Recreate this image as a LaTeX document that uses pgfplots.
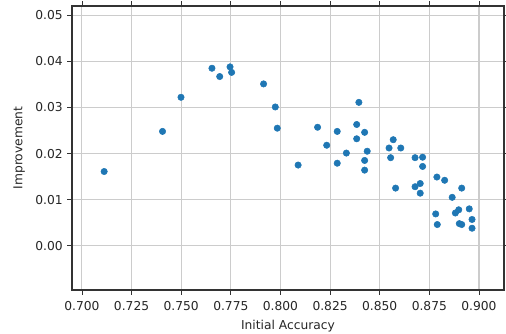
\documentclass[border=0pt]{standalone}
\usepackage{pgfplots}
\pgfplotsset{compat=1.18}
\usepackage{fontspec}
\setmainfont{DejaVu Sans}
\definecolor{mplblue}{HTML}{1F77B4}
\begin{document}
\begin{tikzpicture}
\begin{axis}[
  scale only axis,
  width=324pt, height=213pt,
  xmin=0.695, xmax=0.9126,
  ymin=-0.0096, ymax=0.052,
  xtick={0.700,0.725,0.750,0.775,0.800,0.825,0.850,0.875,0.900},
  ytick={0,0.01,0.02,0.03,0.04,0.05},
  xticklabel style={yshift=-1.5pt,/pgf/number format/.cd,fixed,fixed zerofill,precision=3},
  yticklabel style={/pgf/number format/.cd,fixed,fixed zerofill,precision=2},
  scaled x ticks=false, scaled y ticks=false,
  /pgf/number format/assume math mode=true,
  tick label style={font=\fontsize{9.2}{11}\selectfont, text=black!85},
  label style={font=\fontsize{9.2}{11}\selectfont, text=black!85},
  xlabel={Initial Accuracy},
  ylabel={Improvement},
  xlabel style={yshift=0pt},
  ylabel style={yshift=1pt},
  tick align=outside,
  major tick length=3.5pt,
  tick style={black!80, line width=0.6pt},
  axis line style={black!80, line width=0.8pt},
  grid=major,
  major grid style={gray!40, line width=0.8pt},
  clip=false,
]
\addplot[only marks, mark=*, mark size=2.4pt, mark options={draw=mplblue, fill=mplblue}] coordinates {
(0.7112,0.0161)
(0.7406,0.0248)
(0.7499,0.0322)
(0.7655,0.0385)
(0.7694,0.0367)
(0.7746,0.0388)
(0.7754,0.0376)
(0.7915,0.0351)
(0.7974,0.0301)
(0.7984,0.0255)
(0.8089,0.0175)
(0.8187,0.0257)
(0.8233,0.0218)
(0.8286,0.0248)
(0.8286,0.0179)
(0.8332,0.0201)
(0.8395,0.0311)
(0.8384,0.0263)
(0.8384,0.0232)
(0.8424,0.0246)
(0.8437,0.0205)
(0.8424,0.0185)
(0.8424,0.0164)
(0.8568,0.0230)
(0.8547,0.0212)
(0.8606,0.0212)
(0.8555,0.0191)
(0.8580,0.0125)
(0.8678,0.0191)
(0.8716,0.0192)
(0.8716,0.0172)
(0.8678,0.0128)
(0.8704,0.0135)
(0.8704,0.0114)
(0.8788,0.0149)
(0.8827,0.0142)
(0.8913,0.0125)
(0.8865,0.0105)
(0.8951,0.0080)
(0.8898,0.0078)
(0.8881,0.0071)
(0.8782,0.0069)
(0.8790,0.0046)
(0.8901,0.0048)
(0.8913,0.0046)
(0.8965,0.0057)
(0.8965,0.0038)
};
\end{axis}
\path (current axis.south west) ++(-54pt,-32.25pt) coordinate (bbA);
\path (current axis.north east) ++(1.5pt,4.5pt) coordinate (bbB);
\pgfresetboundingbox
\useasboundingbox (bbA) rectangle (bbB);
\end{tikzpicture}
\end{document}
